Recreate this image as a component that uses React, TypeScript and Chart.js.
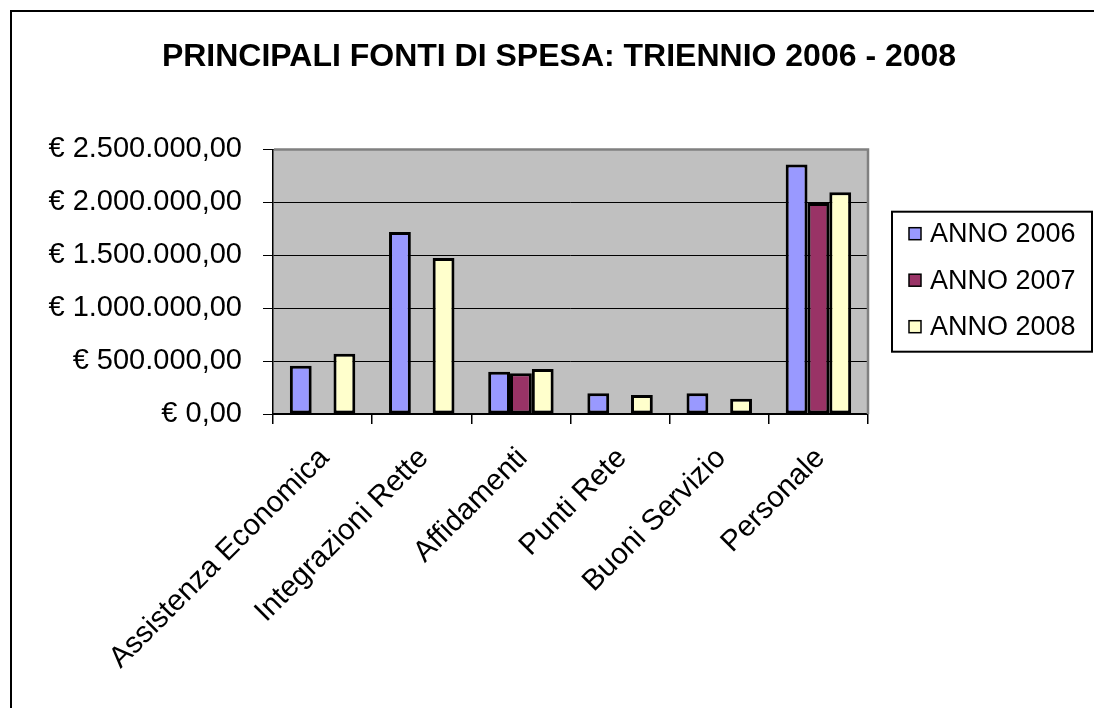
import React, { useEffect, useRef } from 'react';
import { Chart, registerables } from 'chart.js';

Chart.register(...registerables);

const TITLE = 'PRINCIPALI FONTI DI SPESA: TRIENNIO 2006 - 2008';
const CATEGORIES = [
  'Assistenza Economica',
  'Integrazioni Rette',
  'Affidamenti',
  'Punti Rete',
  'Buoni Servizio',
  'Personale',
];
const SERIES_NAMES = ['ANNO 2006', 'ANNO 2007', 'ANNO 2008'];
const ANNO_2006 = [456000, 1720000, 399000, 195000, 195000, 2358000];
const ANNO_2007 = [null, null, 384000, null, null, 1993000];
const ANNO_2008 = [569000, 1475000, 425000, 179000, 144000, 2094000];
const Y_MIN = 0;
const Y_MAX = 2500000;
const Y_STEP = 500000;
const COLORS = ['#9999FF', '#993366', '#FFFFCC'];

const FONT = '"Liberation Sans", Arial, sans-serif';

function formatEuro(v: number): string {
  const int = Math.round(v)
    .toString()
    .replace(/\B(?=(\d{3})+(?!\d))/g, '.');
  return '€ ' + int + ',00';
}

const framePlugin = {
  id: 'frame',
  beforeDraw(chart: any) {
    const { ctx, chartArea: a } = chart;
    ctx.save();
    ctx.fillStyle = '#ffffff';
    ctx.fillRect(0, 0, chart.width, chart.height);
    ctx.fillStyle = '#C0C0C0';
    ctx.fillRect(a.left, a.top, a.right - a.left, a.bottom - a.top);
    ctx.restore();
  },
  beforeDatasetsDraw(chart: any) {
    const { ctx, chartArea: a } = chart;
    ctx.save();
    ctx.strokeStyle = '#808080';
    ctx.lineWidth = 2.5;
    ctx.beginPath();
    ctx.moveTo(a.left + 1, a.top);
    ctx.lineTo(a.right, a.top);
    ctx.lineTo(a.right, a.bottom);
    ctx.stroke();
    ctx.restore();
  },
  afterDraw(chart: any) {
    const { ctx, chartArea: a } = chart;
    ctx.save();
    // outer frame
    ctx.strokeStyle = '#000';
    ctx.lineWidth = 2;
    ctx.beginPath();
    ctx.moveTo(11, chart.height + 5);
    ctx.lineTo(11, 11);
    ctx.lineTo(chart.width + 5, 11);
    ctx.stroke();
    // legend
    const L = a.right + 24;
    const T = (a.top + a.bottom) / 2 - 70;
    const W = 200;
    const H = 140;
    ctx.lineWidth = 2;
    ctx.strokeRect(L, T, W, H);
    ctx.font = '27px ' + FONT;
    ctx.textBaseline = 'middle';
    ctx.textAlign = 'left';
    chart.data.datasets.forEach((ds: any, i: number) => {
      const cy = T + 22 + i * 46.5;
      ctx.fillStyle = ds.backgroundColor;
      ctx.fillRect(L + 17, cy - 6, 12, 12);
      ctx.lineWidth = 1.5;
      ctx.strokeStyle = '#000';
      ctx.strokeRect(L + 17, cy - 6, 12, 12);
      ctx.fillStyle = '#000';
      ctx.fillText(ds.label, L + 38, cy + 1);
    });
    ctx.restore();
  },
};

export default function App() {
  const ref = useRef<HTMLCanvasElement | null>(null);

  useEffect(() => {
    document.body.style.margin = '0';
    const canvas = ref.current;
    if (!canvas) return;
    const chart = new Chart(canvas, {
      type: 'bar',
      data: {
        labels: CATEGORIES,
        datasets: [ANNO_2006, ANNO_2007, ANNO_2008].map((d, i) => ({
          label: SERIES_NAMES[i],
          data: d,
          backgroundColor: COLORS[i],
          borderColor: '#000',
          borderWidth: 3,
          borderSkipped: false,
          categoryPercentage: 0.66,
          barPercentage: 1.0,
        })),
      },
      options: {
        responsive: false,
        animation: false,
        devicePixelRatio: 1,
        layout: { padding: { left: 24, right: 0, top: 0, bottom: 0 } },
        plugins: {
          legend: { display: false },
          tooltip: { enabled: false },
          title: {
            display: true,
            text: TITLE,
            color: '#000',
            font: { family: FONT, size: 32, weight: 'bold' },
            padding: { top: 38, bottom: 73 },
          },
        },
        scales: {
          x: {
            grid: {
              display: true,
              drawOnChartArea: false,
              drawTicks: true,
              tickLength: 10,
              color: '#000',
              lineWidth: 1.5,
              offset: true,
            },
            border: { display: true, color: '#000', width: 2 },
            ticks: {
              autoSkip: false,
              maxRotation: 45,
              minRotation: 45,
              color: '#000',
              font: { family: FONT, size: 29.5 },
              padding: 17,
              labelOffset: 2,
            },
            afterFit(scale: any) {
              scale.height = 294;
              scale.paddingRight = 226;
            },
          },
          y: {
            min: Y_MIN,
            max: Y_MAX,
            ticks: {
              stepSize: Y_STEP,
              color: '#000',
              font: { family: FONT, size: 29 },
              padding: 21,
              callback: (v: any) => formatEuro(Number(v)),
            },
            grid: { color: '#000', lineWidth: 1, drawTicks: true, tickLength: 10 },
            border: { display: true, color: '#000', width: 1.5 },
            afterFit(scale: any) {
              scale.width = 249;
            },
          },
        },
      },
      plugins: [framePlugin],
    } as any);
    return () => chart.destroy();
  }, []);

  return <canvas ref={ref} width={1094} height={708} style={{ display: 'block' }} />;
}
